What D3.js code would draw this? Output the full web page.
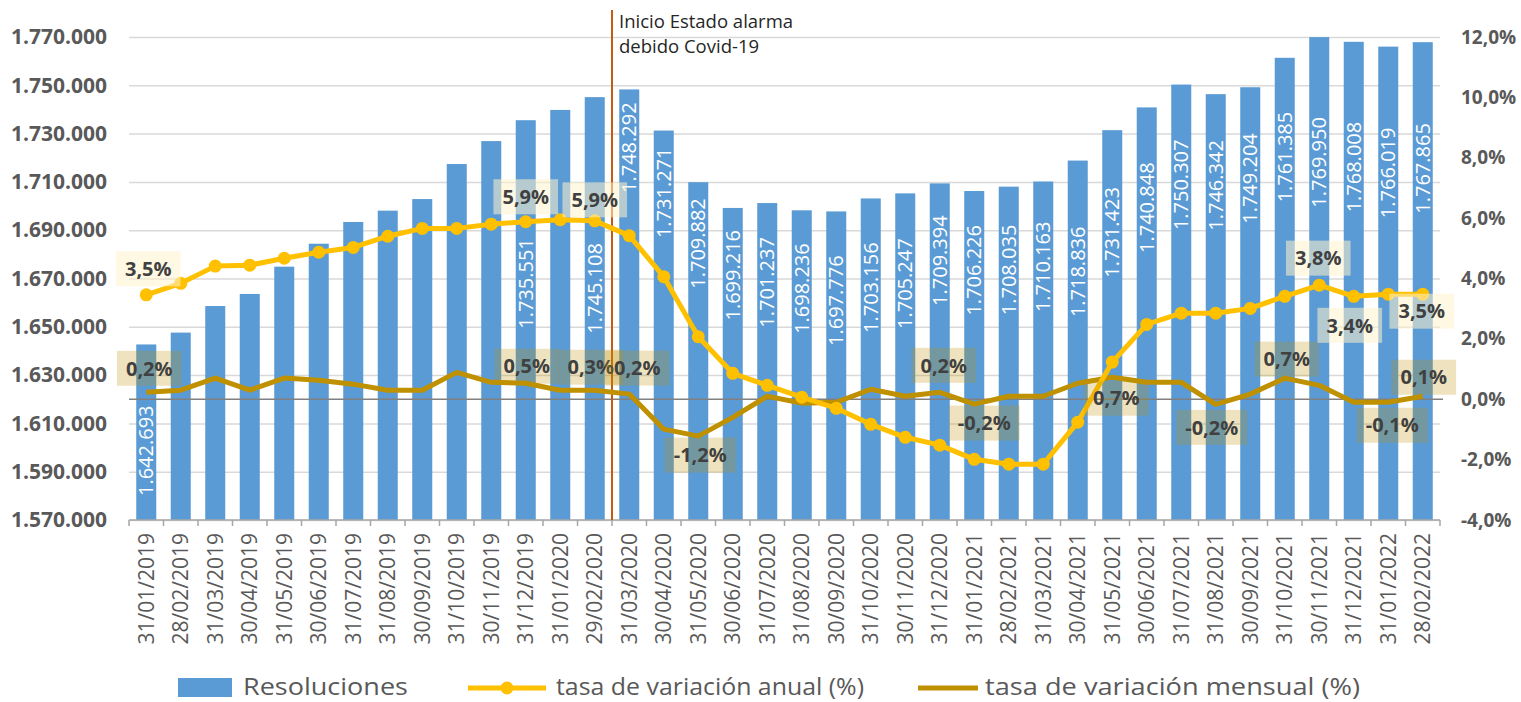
<!DOCTYPE html>
<html>
<head>
<meta charset="utf-8">
<script src="https://cdn.jsdelivr.net/npm/d3@7"></script>
<style>
body { margin:0; background:#fff; }
svg { font-family: "Open Sans", sans-serif; }
</style>
</head>
<body>
<div id="chart"></div>
<script>
/*** Datos ***/
var fechas = ["31/01/2019","28/02/2019","31/03/2019","30/04/2019","31/05/2019","30/06/2019","31/07/2019","31/08/2019","30/09/2019","31/10/2019","30/11/2019","31/12/2019",
  "31/01/2020","29/02/2020","31/03/2020","30/04/2020","31/05/2020","30/06/2020","31/07/2020","31/08/2020","30/09/2020","31/10/2020","30/11/2020","31/12/2020",
  "31/01/2021","28/02/2021","31/03/2021","30/04/2021","31/05/2021","30/06/2021","31/07/2021","31/08/2021","30/09/2021","31/10/2021","30/11/2021","31/12/2021",
  "31/01/2022","28/02/2022"];
var resoluciones = [1642693,1647600,1658600,1663600,1674900,1684400,1693400,1698100,1702900,1717400,1726900,1735551,
  1739800,1745108,1748292,1731271,1709882,1699216,1701237,1698236,1697776,1703156,1705247,1709394,
  1706226,1708035,1710163,1718836,1731423,1740848,1750307,1746342,1749204,1761385,1769950,1768008,
  1766019,1767865];
var tasaAnual = [3.46,3.84,4.41,4.44,4.67,4.87,5.03,5.40,5.66,5.66,5.80,5.88,
  5.95,5.91,5.42,4.06,2.07,0.86,0.46,0.07,-0.30,-0.83,-1.26,-1.52,
  -1.99,-2.15,-2.15,-0.76,1.23,2.48,2.85,2.85,3.01,3.41,3.78,3.41,
  3.48,3.48];
var tasaMensual = [0.23,0.30,0.70,0.30,0.70,0.63,0.50,0.30,0.30,0.89,0.56,0.53,
  0.30,0.30,0.17,-0.99,-1.22,-0.60,0.10,-0.13,-0.10,0.33,0.10,0.23,
  -0.16,0.10,0.10,0.53,0.73,0.56,0.56,-0.17,0.17,0.70,0.46,-0.10,
  -0.10,0.10];
var ticksIzq = [1570000,1590000,1610000,1630000,1650000,1670000,1690000,1710000,1730000,1750000,1770000];
var ticksDer = [-4,-2,0,2,4,6,8,10,12];
var etiqAnual = [0,11,13,34,35,37];
var etiqMensual = [0,11,13,14,16,23,24,28,31,33,36,37];
var nombres = ["Resoluciones","tasa de variación anual (%)","tasa de variación mensual (%)"];
var nota = ["Inicio Estado alarma","debido Covid-19"];

/*** Layout ***/
var W = 1521, H = 702;
var plot = {left:129, right:1440, top:37, bottom:520};
var barColor = "#5b9bd5", anualColor = "#ffc000", mensualColor = "#bf9000";
var textColor = "#595959";
// px below the bar top where each white value label ends (null = no label)
var barLabelDrop = [61,null,null,null,null,null,null,null,null,null,null,118,
  null,146,13,17,16,22,34,33,44,44,45,32,
  34,38,40,66,57,55,55,46,46,54,80,80,
  81,81];
var offAnual = [[2,-26],[0,-25],[0,-21],[-1,-27],[-4,29],[-1,17]];
var offMensual = [[3,-24],[1,-17],[-4,-23],[8,-26],[2,19],[4,-27],[10,19],[4,21],[-4,23],[2,-19],[4,23],[1,-19]];

var es = d3.formatLocale({decimal:",", thousands:".", grouping:[3], currency:["","€"], minus:"-"});
var fmtMiles = es.format(",");
var fmtPct = es.format(".1f");

var svg = d3.select("#chart").append("svg").attr("width", W).attr("height", H);

var x = d3.scaleBand().domain(fechas).range([plot.left, plot.right]).paddingInner(0.42).paddingOuter(0.21);
var yL = d3.scaleLinear().domain([1570000, 1770000]).range([plot.bottom, plot.top]);
var yR = d3.scaleLinear().domain([-4, 12]).range([plot.bottom, plot.top]);
function cx(i) { return x(fechas[i]) + x.bandwidth()/2; }

/*** Rejilla ***/
var grid = svg.append("g").attr("transform", "translate(" + plot.left + ",0)")
  .call(d3.axisLeft(yL).tickValues(ticksIzq).tickSize(-(plot.right - plot.left)).tickFormat(""));
grid.select(".domain").remove();
grid.selectAll("line").attr("stroke", "#d9d9d9").attr("stroke-width", 1.5);

/*** Ejes ***/
var ejeIzq = svg.append("g").attr("transform", "translate(" + plot.left + ",0)")
  .call(d3.axisLeft(yL).tickValues(ticksIzq).tickFormat(fmtMiles).tickSize(0).tickPadding(22));
ejeIzq.select(".domain").remove();
ejeIzq.selectAll("text").attr("font-size", 21).attr("font-weight", "bold").attr("fill", textColor)
  .attr("font-family", "Open Sans");

var ejeDer = svg.append("g").attr("transform", "translate(" + plot.right + ",0)")
  .call(d3.axisRight(yR).tickValues(ticksDer).tickFormat(function(d){ return fmtPct(d) + "%"; }).tickSize(0).tickPadding(21));
ejeDer.select(".domain").remove();
ejeDer.selectAll("text").attr("font-size", 19).attr("font-weight", "bold").attr("fill", textColor)
  .attr("font-family", "Open Sans");

/*** Barras ***/
svg.append("g").selectAll("rect")
  .data(resoluciones)
  .enter()
  .append("rect")
  .attr("x", function(d, i){ return x(fechas[i]); })
  .attr("y", function(d){ return yL(d); })
  .attr("width", x.bandwidth())
  .attr("height", function(d){ return plot.bottom - yL(d); })
  .attr("fill", barColor);

// eje X
var ejeX = svg.append("g").attr("transform", "translate(0," + plot.bottom + ")")
  .call(d3.axisBottom(x).tickSize(0).tickPadding(0));
ejeX.select(".domain").remove();
ejeX.selectAll("text")
  .attr("transform", "rotate(-90)")
  .attr("x", -13).attr("y", 0).attr("dy", "0.35em")
  .attr("text-anchor", "end")
  .attr("font-size", 21).attr("fill", textColor).attr("font-family", "Open Sans");
svg.append("line").attr("x1", plot.left).attr("x2", plot.right)
  .attr("y1", plot.bottom).attr("y2", plot.bottom)
  .attr("stroke", "#a6a6a6").attr("stroke-width", 1.5);
svg.append("g").selectAll("line")
  .data(d3.range(fechas.length + 1))
  .enter()
  .append("line")
  .attr("x1", function(i){ return plot.left + i*x.step(); })
  .attr("x2", function(i){ return plot.left + i*x.step(); })
  .attr("y1", plot.bottom).attr("y2", plot.bottom + 6)
  .attr("stroke", "#a6a6a6").attr("stroke-width", 1.5);

// linea del 0%
svg.append("line").attr("x1", plot.left).attr("x2", plot.right + 3)
  .attr("y1", yR(0)).attr("y2", yR(0))
  .attr("stroke", "#808080").attr("stroke-width", 1.5);

/*** Estado de alarma ***/
var xCovid = x(fechas[14]) - (x.step() - x.bandwidth())/2;
svg.append("line").attr("x1", xCovid).attr("x2", xCovid)
  .attr("y1", 10).attr("y2", plot.bottom)
  .attr("stroke", "#c55a11").attr("stroke-width", 2);
svg.append("g").selectAll("text")
  .data(nota)
  .enter()
  .append("text")
  .attr("x", xCovid + 7)
  .attr("y", function(d, i){ return 28 + i*25; })
  .attr("font-size", 18.5).attr("fill", "#262626")
  .text(function(d){ return d; });

/*** Lineas ***/
var linea = d3.line().x(function(d, i){ return cx(i); }).y(function(d){ return yR(d); });
svg.append("path").datum(tasaMensual)
  .attr("d", linea).attr("fill", "none")
  .attr("stroke", mensualColor).attr("stroke-width", 5).attr("stroke-linejoin", "round");

svg.append("path").datum(tasaAnual)
  .attr("d", linea).attr("fill", "none")
  .attr("stroke", anualColor).attr("stroke-width", 5).attr("stroke-linejoin", "round");
svg.append("g").selectAll("circle")
  .data(tasaAnual)
  .enter()
  .append("circle")
  .attr("cx", function(d, i){ return cx(i); })
  .attr("cy", function(d){ return yR(d); })
  .attr("r", 6.5)
  .attr("fill", anualColor);

/*** Etiquetas de barras ***/
svg.append("g").selectAll("text")
  .data(resoluciones)
  .enter()
  .filter(function(d, i){ return barLabelDrop[i] !== null; })
  .append("text")
  .attr("transform", function(d){
    var i = resoluciones.indexOf(d);
    return "translate(" + cx(i) + "," + (yL(d) + barLabelDrop[i]) + ") rotate(-90)";
  })
  .attr("dy", "0.36em")
  .attr("text-anchor", "end")
  .attr("font-size", 20).attr("fill", "#ffffff")
  .text(function(d){ return fmtMiles(d); });

/*** Etiquetas de porcentaje ***/
function etiquetas(idx, serie, off, fill, op) {
  idx.forEach(function(i, k) {
    var g = svg.append("g")
      .attr("transform", "translate(" + (cx(i) + off[k][0]) + "," + (yR(serie[i]) + off[k][1]) + ")");
    var t = g.append("text")
      .attr("text-anchor", "middle").attr("dy", "0.36em")
      .attr("font-size", 20).attr("font-weight", "bold").attr("fill", "#404040")
      .text(fmtPct(serie[i]) + "%");
    var w = t.node().getComputedTextLength() + 18;
    g.insert("rect", "text")
      .attr("x", -w/2).attr("y", -17.5)
      .attr("width", w).attr("height", 35)
      .attr("fill", fill).attr("fill-opacity", op);
  });
}
etiquetas(etiqMensual, tasaMensual, offMensual, mensualColor, 0.25);
etiquetas(etiqAnual, tasaAnual, offAnual, "#fff2cc", 0.55);

/*** Leyenda ***/
var ley = svg.append("g");
ley.append("rect").attr("x", 178).attr("y", 678).attr("width", 54).attr("height", 19).attr("fill", barColor);
ley.append("line").attr("x1", 468).attr("x2", 546).attr("y1", 688).attr("y2", 688)
  .attr("stroke", anualColor).attr("stroke-width", 5);
ley.append("circle").attr("cx", 507).attr("cy", 688).attr("r", 6.5).attr("fill", anualColor);
ley.append("line").attr("x1", 918).attr("x2", 978).attr("y1", 688).attr("y2", 688)
  .attr("stroke", mensualColor).attr("stroke-width", 5);
var leyX = [243, 556, 985], leyW = [165, 308, 375];
ley.selectAll("text")
  .data(nombres)
  .enter()
  .append("text")
  .attr("x", function(d, i){ return leyX[i]; })
  .attr("y", 695)
  .attr("textLength", function(d, i){ return leyW[i]; })
  .attr("lengthAdjust", "spacingAndGlyphs")
  .attr("font-size", 23).attr("fill", textColor)
  .text(function(d){ return d; });
</script>
</body>
</html>
